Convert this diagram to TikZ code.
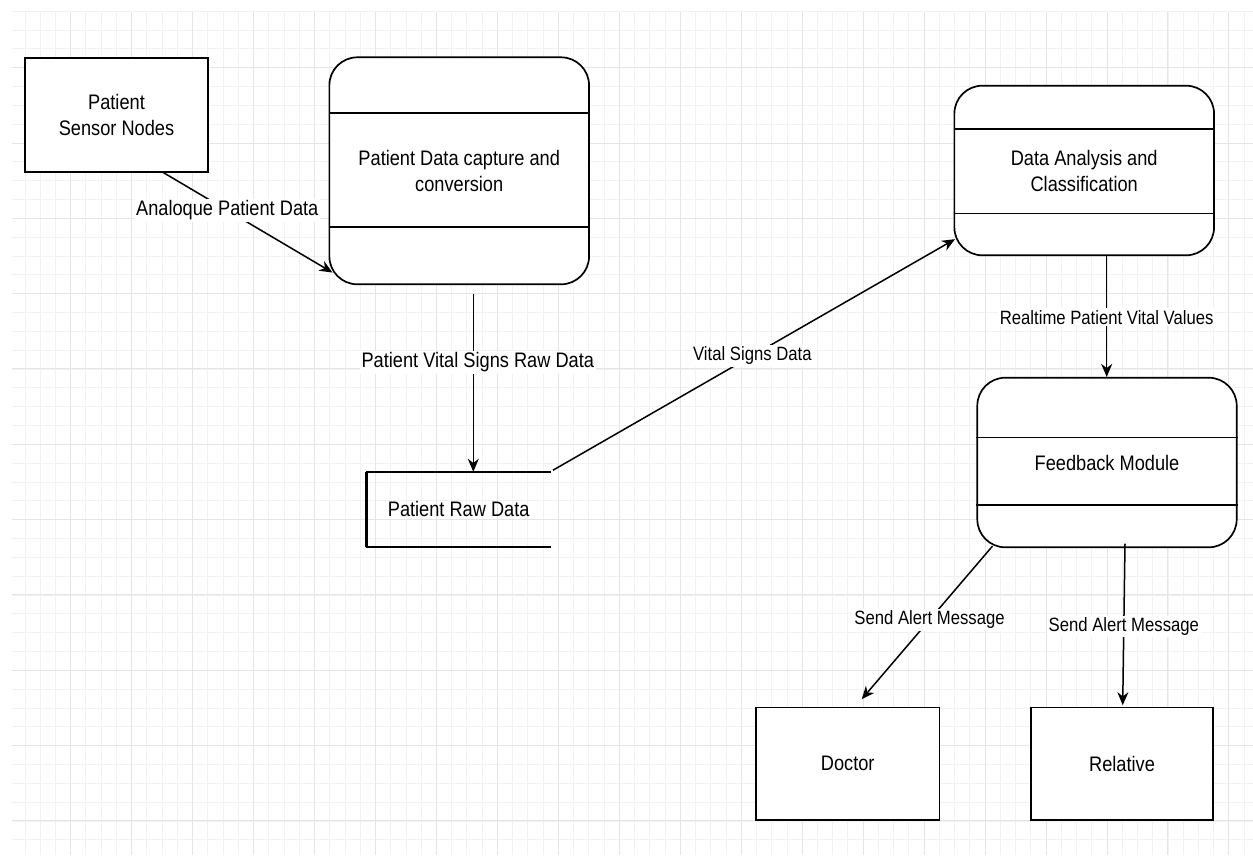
\documentclass[tikz,border=0pt]{standalone}
\usepackage{fontspec}
\setmainfont{Liberation Sans}[FakeStretch=0.867]
\usetikzlibrary{arrows.meta}

\begin{document}
\begin{tikzpicture}[x=1pt,y=1pt,
  big/.style={font=\fontsize{21}{26}\selectfont, text=black, align=center},
  small/.style={font=\fontsize{19.25}{24}\selectfont, text=black, align=center},
  box/.style={draw=black, line width=1.7pt, fill=white, inner sep=0pt, big},
  lane/.style={box, rounded corners=28pt},
  divider/.style={draw=black, line width=1.7pt},
  flow/.style={draw=black, line width=1.5pt, -{Stealth[length=13pt,width=11pt]}},
  tag/.style={fill=white, inner sep=2pt},
  minorline/.style={draw=black!5, line width=0.8pt},
  majorline/.style={draw=black!10, line width=1pt},
]
% canvas
\fill[white] (0,0) rectangle (1253,-855);
\useasboundingbox (0,0) rectangle (1253,-855);

% background grid
\foreach \i in {0,...,80} {\draw[minorline] ({24.9+15.24*\i},-12) -- ({24.9+15.24*\i},-855);}
\foreach \j in {0,...,44} {\draw[minorline] (12,{-11.2-18.83*\j}) -- (1253,{-11.2-18.83*\j});}
\foreach \i in {0,...,19} {\draw[majorline] ({70.7+60.96*\i},-12) -- ({70.7+60.96*\i},-855);}
\foreach \j in {0,...,10} {\draw[majorline] (12,{-67.7-75.32*\j}) -- (1253,{-67.7-75.32*\j});}

% external entities
\node[box, minimum width=183pt, minimum height=114pt] (sensor) at (116.5,-114.7) {Patient\\Sensor Nodes};
\node[box, minimum width=183.3pt, minimum height=112.7pt] (doc) at (847.7,-763.7) {Doctor};
\node[box, minimum width=182.6pt, minimum height=112.7pt] (rel) at (1122,-763.7) {Relative};

% processes
\node[lane, minimum width=259.7pt, minimum height=227pt] (cap) at (459.2,-170.8) {Patient Data capture and\\conversion};
\draw[divider] ([yshift=-56.7pt]cap.north west) -- ([yshift=-56.7pt]cap.north east);
\draw[divider] ([yshift=-170.4pt]cap.north west) -- ([yshift=-170.4pt]cap.north east);

\node[lane, minimum width=259.7pt, minimum height=169.6pt] (ana) at (1084.2,-170.5) {Data Analysis and\\Classification};
\draw[divider] ([yshift=-44.3pt]ana.north west) -- ([yshift=-44.3pt]ana.north east);
\draw[divider] ([yshift=-128.6pt]ana.north west) -- ([yshift=-128.6pt]ana.north east);

\node[lane, minimum width=259.4pt, minimum height=169.6pt] (fb) at (1107,-462.5) {Feedback Module};
\draw[divider] ([yshift=-60.6pt]fb.north west) -- ([yshift=-60.6pt]fb.north east);
\draw[divider] ([yshift=-128.3pt]fb.north west) -- ([yshift=-128.3pt]fb.north east);

% data store
\node[big, inner sep=0pt, minimum width=184pt, minimum height=74.7pt] (raw) at (458.7,-509.3) {Patient Raw Data};
\draw[line width=1.7pt] (raw.north east) -- (raw.north west) -- (raw.south west) -- (raw.south east);
\draw[line width=2.8pt] (raw.north west) -- (raw.south west);

% data flows
\draw[flow] ([xshift=46.8pt]sensor.south) -- ([shift={(4,12.6)}]cap.south west)
  node[tag, big, pos=0.378] {Analoque Patient Data};
\draw[flow] ([shift={(14.1,-8.4)}]cap.south) -- ([xshift=14.6pt]raw.north)
  node[tag, big, pos=0.386, xshift=4.5pt] {Patient Vital Signs Raw Data};
\draw[flow] ([shift={(2,1.5)}]raw.north east) -- ([shift={(1.5,17)}]ana.south west)
  node[tag, small, pos=0.496] {Vital Signs Data};
\draw[flow] ([xshift=22.5pt]ana.south) -- ([xshift=-0.3pt]fb.north)
  node[tag, small, pos=0.507] {Realtime Patient Vital Values};
\draw[flow] ([shift={(16,2)}]fb.south west) -- ([shift={(14,7.3)}]doc.north)
  node[tag, small, pos=0.481] {Send Alert Message};
\draw[flow] ([shift={(18,4.6)}]fb.south) -- ([shift={(0.7,1.3)}]rel.north)
  node[tag, small, pos=0.513] {Send Alert Message};
\end{tikzpicture}
\end{document}
